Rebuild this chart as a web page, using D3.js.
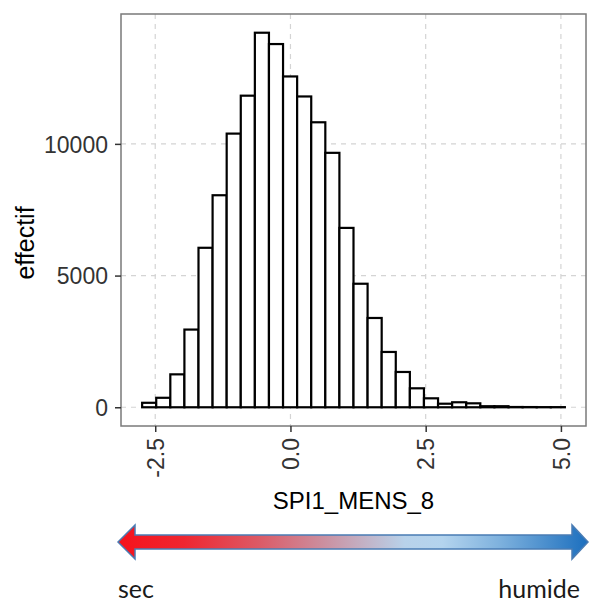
<!DOCTYPE html>
<html>
<head>
<meta charset="utf-8">
<script src="https://cdn.jsdelivr.net/npm/d3@7"></script>
<style>
  html, body { margin: 0; padding: 0; background: #fff; }
  svg { display: block; }
</style>
</head>
<body>
<svg id="chart" width="590" height="603"></svg>
<script>
// ---- data ----
const binStart = -2.742;   // lower edge of first bin
const binWidth = 0.2605;   // width of each bin (30 bins)
const counts = [170, 360, 1250, 2950, 6055, 8050, 10390, 11830, 14220, 13790,
                12560, 11800, 10820, 9660, 6810, 4690, 3390, 2100, 1340, 720,
                340, 135, 190, 150, 40, 40, 10, 8, 5, 5];
const xTicks = [-2.5, 0.0, 2.5, 5.0];
const yTicks = [0, 5000, 10000];
const xTitle = "SPI1_MENS_8";
const yTitle = "effectif";
const leftLabel = "sec";
const rightLabel = "humide";

// ---- layout ----
const svg = d3.select("#chart");
const panel = { left: 121, right: 586, top: 14, bottom: 426 };

const bins = counts.map((c, i) => ({ x0: binStart + i * binWidth, x1: binStart + (i + 1) * binWidth, n: c }));
const xMin = bins[0].x0, xMax = bins[bins.length - 1].x1;
const xPad = (xMax - xMin) * 0.05;
const x = d3.scaleLinear().domain([xMin - xPad, xMax + xPad]).range([panel.left, panel.right]);
const yMax = d3.max(counts);
const y = d3.scaleLinear().domain([-yMax * 0.05, yMax * 1.05]).range([panel.bottom, panel.top]);

// grid
const grid = svg.append("g");
grid.selectAll("line.gx").data(xTicks).join("line")
  .attr("x1", d => x(d)).attr("x2", d => x(d))
  .attr("y1", panel.top).attr("y2", panel.bottom)
  .attr("stroke", "#d4d4d4").attr("stroke-width", 1.2).attr("stroke-dasharray", "5,5");
grid.selectAll("line.gy").data(yTicks).join("line")
  .attr("x1", panel.left).attr("x2", panel.right)
  .attr("y1", d => y(d)).attr("y2", d => y(d))
  .attr("stroke", "#d4d4d4").attr("stroke-width", 1.2).attr("stroke-dasharray", "5,5");

// bars
svg.append("g").selectAll("rect").data(bins).join("rect")
  .attr("x", d => x(d.x0))
  .attr("width", d => x(d.x1) - x(d.x0))
  .attr("y", d => y(d.n))
  .attr("height", d => y(0) - y(d.n))
  .attr("fill", "#fff")
  .attr("stroke", "#000")
  .attr("stroke-width", 2.2);

// panel border
svg.append("rect")
  .attr("x", panel.left).attr("y", panel.top)
  .attr("width", panel.right - panel.left).attr("height", panel.bottom - panel.top)
  .attr("fill", "none").attr("stroke", "#7a7a7a").attr("stroke-width", 1.5);

// axes
const fmtX = d => d3.format(".1f")(d).replace("\u2212", "-");
const xAxis = svg.append("g").attr("transform", `translate(0,${panel.bottom})`)
  .call(d3.axisBottom(x).tickValues(xTicks).tickSize(6).tickFormat(fmtX));
xAxis.select(".domain").remove();
xAxis.selectAll(".tick line").attr("stroke", "#333").attr("stroke-width", 1.5);
xAxis.selectAll(".tick text")
  .attr("font-family", "Liberation Sans, Arial, sans-serif")
  .attr("font-size", 23).attr("fill", "#333")
  .attr("transform", "rotate(-90)")
  .attr("text-anchor", "end")
  .attr("x", -12).attr("y", 0).attr("dy", "0.36em");

const yAxis = svg.append("g").attr("transform", `translate(${panel.left},0)`)
  .call(d3.axisLeft(y).tickValues(yTicks).tickSize(6).tickFormat(d3.format("d")));
yAxis.select(".domain").remove();
yAxis.selectAll(".tick line").attr("stroke", "#333").attr("stroke-width", 1.5);
yAxis.selectAll(".tick text")
  .attr("font-family", "Liberation Sans, Arial, sans-serif")
  .attr("font-size", 23).attr("fill", "#333")
  .attr("x", -13).attr("dy", "0.36em");

// titles
svg.append("text")
  .attr("x", (panel.left + panel.right) / 2).attr("y", 509)
  .attr("text-anchor", "middle")
  .attr("font-family", "Liberation Sans, Arial, sans-serif")
  .attr("font-size", 24).attr("fill", "#000")
  .text(xTitle);
svg.append("text")
  .attr("transform", "translate(34,243) rotate(-90)")
  .attr("text-anchor", "middle")
  .attr("font-family", "Liberation Sans, Arial, sans-serif")
  .attr("font-size", 25).attr("fill", "#000")
  .text(yTitle);

// gradient arrow
const defs = svg.append("defs");
const grad = defs.append("linearGradient").attr("id", "arrowGrad")
  .attr("x1", "0%").attr("x2", "100%").attr("y1", "0%").attr("y2", "0%");
[["0%", "#f5121c"], ["14%", "#ef2630"], ["30%", "#dc5a66"], ["43%", "#cc8c9c"],
 ["53%", "#c2b4c8"], ["61%", "#b8d2ea"], ["69%", "#b4d4ee"], ["81%", "#7fb2de"],
 ["100%", "#1c6fbe"]].forEach(s => grad.append("stop").attr("offset", s[0]).attr("stop-color", s[1]));

const ay = 542, headH = 17, shaftH = 7, tipL = 118, baseL = 135, baseR = 572, tipR = 588;
const arrowPts = [
  [tipL, ay], [baseL, ay - headH], [baseL, ay - shaftH], [baseR, ay - shaftH], [baseR, ay - headH],
  [tipR, ay], [baseR, ay + headH], [baseR, ay + shaftH], [baseL, ay + shaftH], [baseL, ay + headH]
];
svg.append("path")
  .attr("d", d3.line()(arrowPts) + "Z")
  .attr("fill", "url(#arrowGrad)")
  .attr("stroke", "#4a7cb4").attr("stroke-width", 1.5).attr("stroke-linejoin", "miter");

svg.append("text")
  .attr("x", 118).attr("y", 598)
  .attr("font-family", "Lato, 'Open Sans', sans-serif")
  .attr("font-size", 25).attr("fill", "#1a1a1a")
  .text(leftLabel);
svg.append("text")
  .attr("x", 580).attr("y", 598).attr("text-anchor", "end")
  .attr("font-family", "Lato, 'Open Sans', sans-serif")
  .attr("font-size", 25).attr("fill", "#1a1a1a")
  .text(rightLabel);
</script>
</body>
</html>
